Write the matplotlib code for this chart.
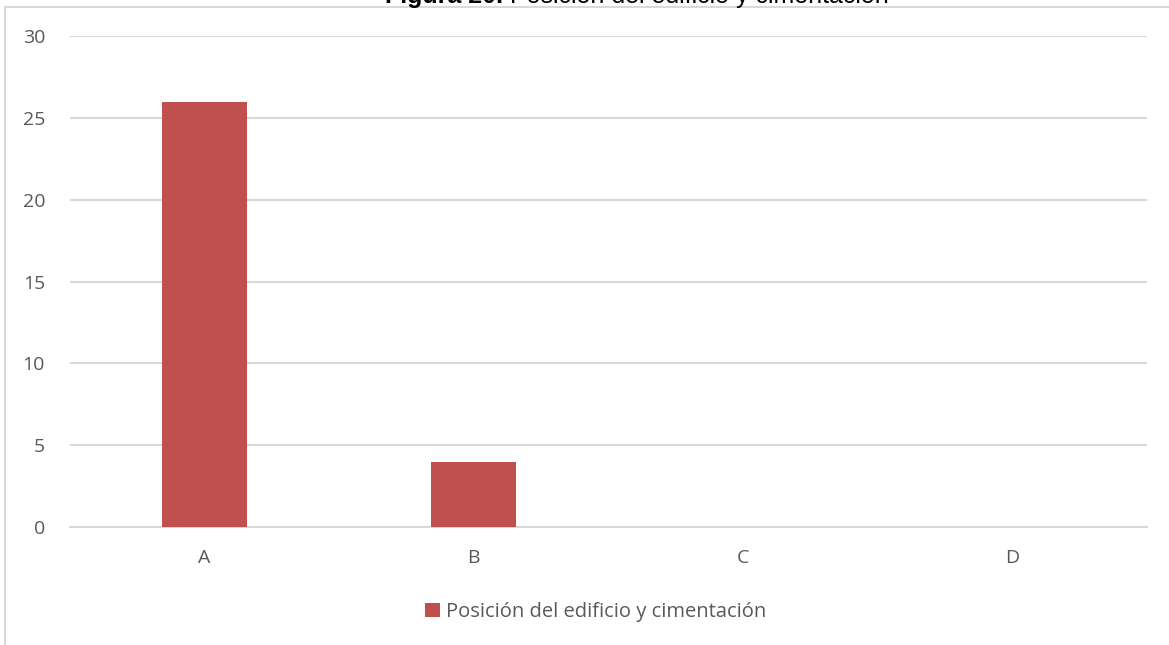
import matplotlib.pyplot as plt
from matplotlib.patches import Rectangle

categories = ["A", "B", "C", "D"]
values = [26, 4, 0, 0]
series_name = "Posición del edificio y cimentación"
y_ticks = [0, 5, 10, 15, 20, 25, 30]

bar_color = "#c0504d"
text_color = "#595959"
grid_color = "#d9d9d9"

plt.rcParams["font.family"] = ["Open Sans", "DejaVu Sans"]

fig = plt.figure(figsize=(11.69, 6.45), dpi=100)
ax = fig.add_axes([0.0599, 0.183, 0.9211, 0.761])

x = range(len(categories))
ax.bar(x, values, width=0.316, color=bar_color, label=series_name, zorder=3)

ax.set_xlim(-0.5, len(categories) - 0.5)
ax.set_ylim(0, 30)
ax.set_yticks(y_ticks)
ax.set_xticks(list(x))
ax.set_xticklabels(categories)
ax.grid(axis="y", color=grid_color, linewidth=1.5, zorder=0)
ax.tick_params(axis="both", length=0, labelsize=14, colors=text_color)
ax.tick_params(axis="y", pad=18)
ax.tick_params(axis="x", pad=16)
for side in ["top", "right", "left"]:
    ax.spines[side].set_visible(False)
ax.spines["bottom"].set_color(grid_color)
ax.spines["bottom"].set_linewidth(1.5)

# outer chart frame
fig.patches.append(Rectangle((5 / 1169, -0.1), 1.2, 1.1 - 7 / 645, transform=fig.transFigure,
                             fill=False, edgecolor=grid_color, linewidth=1.5))

# title, clipped by the top of the canvas
fig.text(503 / 1169, 1 - 3 / 645, "Figura 20.", ha="right", va="baseline",
         fontsize=18, fontweight="bold", family="Liberation Sans", color="black")
fig.text(510 / 1169, 1 - 3 / 645, series_name, ha="left", va="baseline",
         fontsize=18, family="Liberation Sans", color="black")

leg = ax.legend(loc="center", bbox_to_anchor=(596 / 1169, 1 - 612 / 645),
                bbox_transform=fig.transFigure, frameon=False, fontsize=14.5,
                handlelength=0.75, handleheight=0.75, handletextpad=0.3)
for t in leg.get_texts():
    t.set_color(text_color)

fig.savefig("out.png", dpi=100)
